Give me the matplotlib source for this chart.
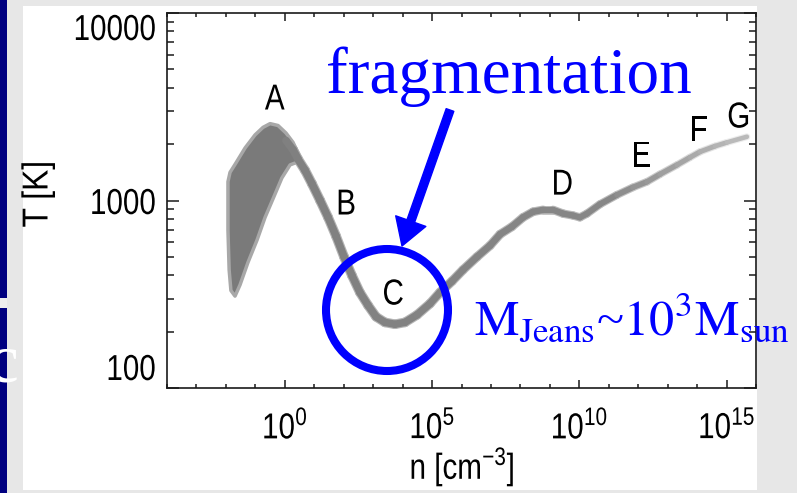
import numpy as np
import matplotlib
matplotlib.use("Agg")
import matplotlib.pyplot as plt
from matplotlib import font_manager as fm
from matplotlib.collections import LineCollection
from matplotlib.patches import Rectangle, Ellipse, Polygon
from matplotlib.patheffects import AbstractPathEffect
from matplotlib.transforms import Affine2D
from matplotlib.ticker import FixedLocator, FixedFormatter, NullFormatter, LogLocator

# ---- data: log10 n [cm^-3] and log10 T [K] ----
track_log_n = [0.04, 0.28, 0.45, 0.69, 0.92, 1.20, 1.47, 1.74, 2.01, 2.28, 2.55, 2.83, 3.10,
               3.40, 3.74, 4.08, 4.49, 4.93, 5.27, 5.68, 6.05, 6.53, 6.97, 7.31,
               7.71, 8.09, 8.43, 8.77, 9.11, 9.45, 9.79, 10.02, 10.26, 10.70,
               11.28, 11.82, 12.30, 12.74, 13.32, 13.76, 14.10, 14.61, 15.02, 15.69]
track_log_T = [3.32, 3.27, 3.22, 3.16, 3.09, 3.00, 2.91, 2.81, 2.70, 2.60, 2.51, 2.44, 2.38,
               2.35, 2.34, 2.35, 2.39, 2.45, 2.51, 2.57, 2.63, 2.70, 2.76, 2.82,
               2.86, 2.91, 2.94, 2.95, 2.95, 2.93, 2.92, 2.91, 2.93, 2.98,
               3.03, 3.07, 3.10, 3.14, 3.19, 3.23, 3.26, 3.29, 3.31, 3.34]

# spread of the early trajectories (upper and lower envelope)
fan_upper_log_n = [-1.93, -1.86, -1.66, -1.35, -1.01, -0.74, -0.50, -0.23, 0.04, 0.28, 0.52]
fan_upper_log_T = [3.10, 3.15, 3.20, 3.28, 3.35, 3.39, 3.41, 3.40, 3.36, 3.31, 3.23]
fan_lower_log_n = [-1.93, -1.89, -1.83, -1.69, -1.52, -1.25, -0.94, -0.67, -0.37, -0.10, 0.18, 0.52]
fan_lower_log_T = [2.84, 2.63, 2.52, 2.49, 2.55, 2.67, 2.79, 2.91, 3.02, 3.12, 3.19, 3.21]

phase_labels = ["A", "B", "C", "D", "E", "F", "G"]
x_tick_exponents = [0, 5, 10, 15]
y_tick_values = [100, 1000, 10000]
y_tick_labels = ["100", "1000", "10000"]


class Squeeze(AbstractPathEffect):
    """Condense glyphs along the reading direction (narrow sans look)."""

    def __init__(self, factor=0.82, anchor=0.5, vertical=False):
        super().__init__()
        self.factor = factor
        self.anchor = anchor
        self.vertical = vertical

    def draw_path(self, renderer, gc, tpath, affine, rgbFace=None):
        ext = tpath.get_extents(affine)
        if self.vertical:
            y0 = ext.y0 + self.anchor * ext.height
            t = affine + Affine2D().translate(0, -y0).scale(1, self.factor).translate(0, y0)
        else:
            x0 = ext.x0 + self.anchor * ext.width
            t = affine + Affine2D().translate(-x0, 0).scale(self.factor, 1).translate(x0, 0)
        renderer.draw_path(gc, tpath, t, rgbFace)


# ---- fonts ----
installed = {f.name for f in fm.fontManager.ttflist}
narrow = "Liberation Sans Narrow" in installed
sans = "Liberation Sans Narrow" if narrow else "Liberation Sans"
SQ = 1.0 if narrow else 0.82
plt.rcParams["font.family"] = "sans-serif"
plt.rcParams["font.sans-serif"] = [sans, "Liberation Sans", "DejaVu Sans"]

W, H = 797, 493
fig = plt.figure(figsize=(W / 100, H / 100), dpi=100)
fig.patch.set_facecolor("#e7e7e7")


def fx(px):
    return px / W


def fy(py):
    return 1 - py / H


# slide background pieces
fig.add_artist(Rectangle((fx(23), fy(490)), fx(757) - fx(23), fy(6) - fy(490),
                         transform=fig.transFigure, facecolor="white", edgecolor="none", zorder=0))
fig.add_artist(Rectangle((0, 0), fx(7), 1, transform=fig.transFigure,
                         facecolor="#000080", edgecolor="none", zorder=0))
fig.add_artist(Rectangle((0, fy(308)), fx(7), fy(298) - fy(308), transform=fig.transFigure,
                         facecolor="#eeeeee", edgecolor="none", zorder=0))
fig.text(fx(-13), fy(381), "c", family="Liberation Serif", fontsize=50, color="white",
         ha="left", va="baseline", zorder=1)

ax = fig.add_axes([fx(167), fy(388), fx(756) - fx(167), fy(13) - fy(388)])
ax.set_facecolor("white")
ax.set_xscale("log")
ax.set_yscale("log")
ax.set_xlim(1e-4, 1e16)
ax.set_ylim(100, 10000)

# main thermal track: soft halo first, fan over it, dark core on top
ln = np.array(track_log_n)
lT = np.array(track_log_T)
pts = np.column_stack([10.0 ** ln, 10.0 ** lT])
segs = np.stack([pts[:-1], pts[1:]], axis=1)
mid = 0.5 * (ln[:-1] + ln[1:])
shade = np.interp(mid, [0, 11, 16], [0.50, 0.53, 0.76])
width = np.interp(mid, [0, 5, 10, 16], [5.6, 5.3, 4.4, 3.2])
halo = LineCollection(segs, colors=[(min(s + 0.2, 1),) * 3 for s in shade],
                      linewidths=width + 1.6, capstyle="round", zorder=2)
core = LineCollection(segs, colors=[(s, s, s) for s in shade],
                      linewidths=width, capstyle="round", zorder=4)
ax.add_collection(halo)

# fan of early trajectories
fan_x = np.concatenate([fan_upper_log_n, fan_lower_log_n[::-1]])
fan_y = np.concatenate([fan_upper_log_T, fan_lower_log_T[::-1]])
ax.add_patch(Polygon(np.column_stack([10.0 ** fan_x, 10.0 ** fan_y]), closed=True,
                     facecolor="#7a7a7a", edgecolor="#a8a8a8", linewidth=2.5,
                     joinstyle="round", zorder=3))
ax.add_collection(core)

# ticks
ax.xaxis.set_major_locator(FixedLocator([10.0 ** e for e in x_tick_exponents]))
ax.xaxis.set_major_formatter(FixedFormatter([r"$\mathregular{10^{%d}}$" % e for e in x_tick_exponents]))
ax.xaxis.set_minor_locator(FixedLocator([10.0 ** k for k in range(-4, 17) if k % 5 != 0]))
ax.xaxis.set_minor_formatter(NullFormatter())
ax.yaxis.set_major_locator(FixedLocator(y_tick_values))
ax.yaxis.set_major_formatter(FixedFormatter(y_tick_labels))
ax.yaxis.set_minor_locator(LogLocator(base=10, subs=np.arange(2, 10)))
ax.yaxis.set_minor_formatter(NullFormatter())

ax.tick_params(which="both", direction="in", top=True, right=True, color="#1a1a1a",
               width=1.1, labelsize=26, labelcolor="black")
ax.tick_params(axis="x", which="major", length=5.5, pad=16)
ax.tick_params(axis="x", which="minor", length=3)
ax.tick_params(axis="y", which="major", length=8.5, pad=8)
ax.tick_params(axis="y", which="minor", length=5)
for s in ax.spines.values():
    s.set_linewidth(1.2)
    s.set_color("#1a1a1a")

fig.canvas.draw()
for tk in ax.xaxis.get_major_ticks():
    tk.label1.set_path_effects([Squeeze(SQ, 0.5)])
yticks = ax.yaxis.get_major_ticks()
for tk in yticks:
    tk.label1.set_path_effects([Squeeze(SQ, 1.0)])
yticks[0].label1.set_va("bottom")
yticks[-1].label1.set_va("top")

fig.text(fx(38), fy(194), "T [K]", rotation=90, fontsize=26, ha="center", va="center",
         path_effects=[Squeeze(min(1.0, SQ + 0.06), 0.5, vertical=True)])
fig.text(fx(462), fy(467), r"n [cm$^{\mathregular{-3}}$]", fontsize=26, ha="center", va="center",
         path_effects=[Squeeze(SQ, 0.5)])

# phase letters
label_pos = [(0.183, 0.768), (0.304, 0.488), (0.384, 0.248), (0.671, 0.541),
             (0.805, 0.616), (0.903, 0.685), (0.971, 0.720)]
for lab, (px, py) in zip(phase_labels, label_pos):
    ax.text(px, py, lab, transform=ax.transAxes, fontsize=26, ha="center", va="center", zorder=5,
            path_effects=[Squeeze(SQ, 0.5)])

# annotations
blue = "#0000ff"
fig.text(fx(509), fy(93), "fragmentation", family="Liberation Serif", fontsize=47,
         color=blue, ha="center", va="baseline", zorder=6)
fig.text(fx(474), fy(335), r"$\mathrm{M_{Jeans}}$~$\mathrm{10^{3}M_{sun}}$",
         math_fontfamily="stix", family="Liberation Serif",
         fontsize=36, color=blue, ha="left", va="baseline", zorder=6)
fig.add_artist(Ellipse((fx(387), fy(310)), 122 / W, 122 / H, transform=fig.transFigure,
                       facecolor="none", edgecolor=blue, linewidth=5.8, zorder=7))
ax.annotate("", xy=(402, H - 246), xytext=(450, H - 110), xycoords="figure pixels",
            textcoords="figure pixels",
            arrowprops=dict(arrowstyle="simple,head_length=0.95,head_width=1.15,tail_width=0.29",
                            mutation_scale=20, color=blue, shrinkA=0, shrinkB=0),
            zorder=7, annotation_clip=False)

fig.savefig("out.png", dpi=100, facecolor=fig.get_facecolor())
